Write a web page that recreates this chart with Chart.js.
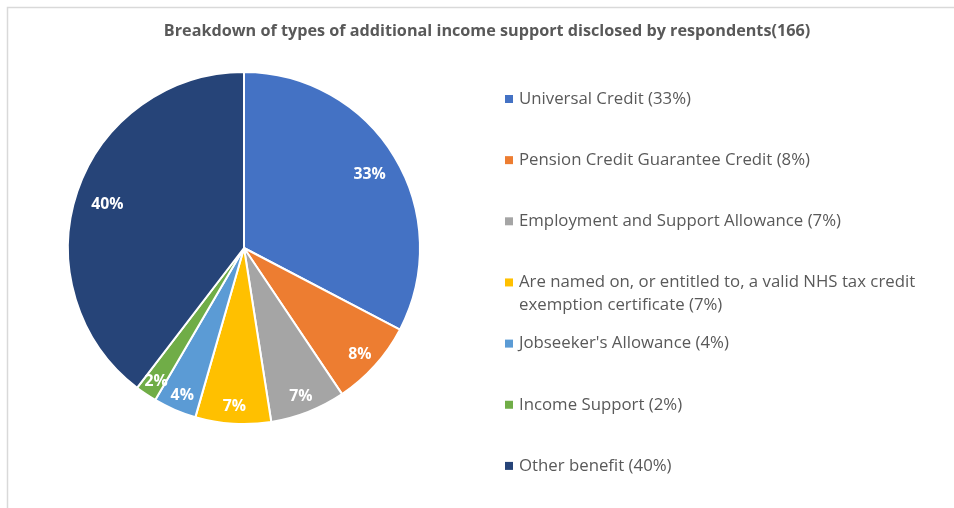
<!DOCTYPE html>
<html>
<head>
<meta charset="utf-8">
<script src="https://cdn.jsdelivr.net/npm/chart.js@4"></script>
<style>
  html, body { margin: 0; padding: 0; background: #fff; }
  #wrap { position: relative; width: 954px; height: 508px; }
</style>
</head>
<body>
<div id="wrap"><canvas id="myChart" width="954" height="508"></canvas></div>
<script>
var titleText = 'Breakdown of types of additional income support disclosed by respondents(166)';
var categories = [
  'Universal Credit',
  'Pension Credit Guarantee Credit',
  'Employment and Support Allowance',
  'Are named on, or entitled to, a valid NHS tax credit exemption certificate',
  "Jobseeker's Allowance",
  'Income Support',
  'Other benefit'
];
// legend text, with the long entry split over two lines
var legendLines = [
  ['Universal Credit (33%)'],
  ['Pension Credit Guarantee Credit (8%)'],
  ['Employment and Support Allowance (7%)'],
  ['Are named on, or entitled to, a valid NHS tax credit', 'exemption certificate (7%)'],
  ["Jobseeker's Allowance (4%)"],
  ['Income Support (2%)'],
  ['Other benefit (40%)']
];
var percentages = [33, 8, 7, 7, 4, 2, 40];
var colors = ['#4472C4', '#ED7D31', '#A5A5A5', '#FFC000', '#5B9BD5', '#70AD47', '#264478'];

var FONT = '"Open Sans", "Liberation Sans", sans-serif';
var TEXT_GREY = '#595959';

// frame, title, slice labels and legend drawn straight on the canvas
var extrasPlugin = {
  id: 'extras',
  beforeDraw: function(chart) {
    var c = chart.ctx;
    c.save();
    c.strokeStyle = '#d9d9d9';
    c.lineWidth = 1.5;
    c.beginPath();
    c.moveTo(7.5, chart.height);
    c.lineTo(7.5, 7.5);
    c.lineTo(chart.width, 7.5);
    c.stroke();
    c.restore();
  },
  afterDraw: function(chart) {
    var c = chart.ctx;
    c.save();

    c.fillStyle = TEXT_GREY;
    c.font = 'bold 16.2px ' + FONT;
    c.textAlign = 'center';
    c.textBaseline = 'middle';
    c.fillText(titleText, 487, 31);

    // value labels inside the slices; narrow slices get their label pushed outwards
    var meta = chart.getDatasetMeta(0);
    c.fillStyle = '#ffffff';
    c.font = 'bold 15.8px ' + FONT;
    meta.data.forEach(function(arc, i) {
      var p = arc.getProps(['x', 'y', 'startAngle', 'endAngle', 'outerRadius'], true);
      var mid = (p.startAngle + p.endAngle) / 2;
      var r = p.outerRadius * (0.9 - 0.002 * percentages[i]);
      c.fillText(percentages[i] + '%', p.x + Math.cos(mid) * r, p.y + Math.sin(mid) * r + 3);
    });

    // legend
    c.textAlign = 'left';
    c.font = '16.8px ' + FONT;
    legendLines.forEach(function(lines, i) {
      var y = 99 + i * 61.15;
      c.fillStyle = colors[i];
      c.fillRect(505, y - 4, 8, 8);
      c.fillStyle = TEXT_GREY;
      lines.forEach(function(line, j) {
        c.fillText(line, 519, y + j * 23);
      });
    });
    c.restore();
  }
};

var ctx = document.getElementById('myChart').getContext('2d');
var myChart = new Chart(ctx, {
  type: 'pie',
  data: {
    labels: categories,
    datasets: [{
      data: percentages,
      backgroundColor: colors,
      borderColor: '#ffffff',
      borderWidth: 2
    }]
  },
  options: {
    responsive: false,
    animation: false,
    layout: {
      padding: { left: 67, right: 533, top: 71, bottom: 83 }
    },
    plugins: {
      legend: { display: false },
      title: { display: false },
      tooltip: { enabled: false }
    }
  },
  plugins: [extrasPlugin]
});
</script>
</body>
</html>
